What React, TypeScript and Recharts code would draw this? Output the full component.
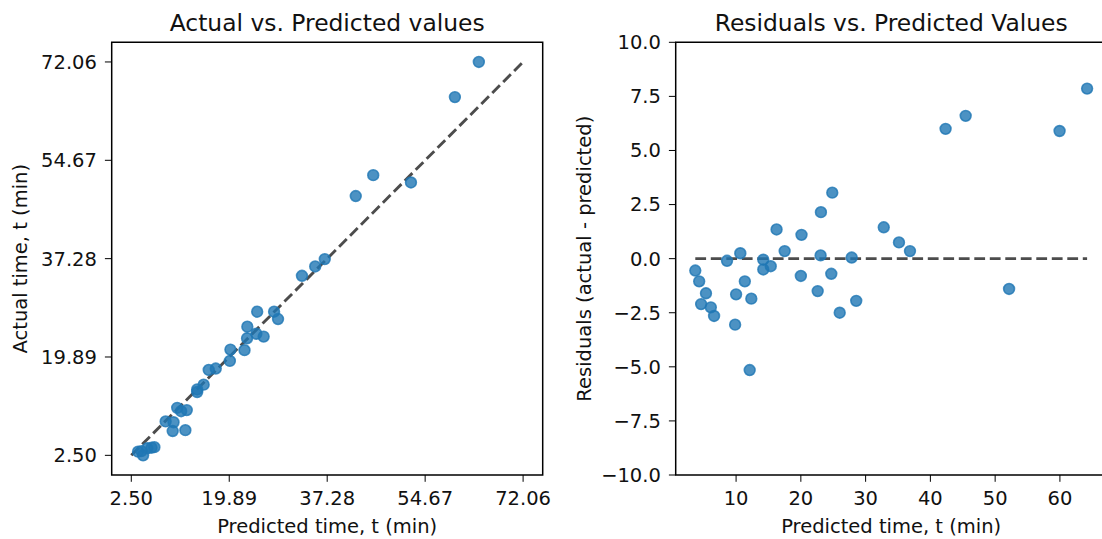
import React from 'react';
import {
  ScatterChart,
  Scatter,
  XAxis,
  YAxis,
  ReferenceLine,
  ReferenceArea,
} from 'recharts';

// predicted times (min) and residuals
const predicted = [
  3.7, 4.3, 5.35, 4.6, 6.1, 6.6, 8.6, 10.0, 9.85, 10.65, 11.35, 12.35,
  12.1, 14.2, 14.2, 15.35, 16.25, 17.5, 20.1, 20.0, 22.6, 23.1, 23.05, 24.85,
  24.7, 26.0, 27.85, 28.55, 32.8, 35.15, 36.85, 42.35, 45.45, 52.15, 59.95, 64.2,
];
const residuals = [
  -0.55, -1.05, -1.6, -2.1, -2.25, -2.65, -0.1, -1.65, -3.05, 0.25, -1.05, -1.85,
  -5.15, -0.05, -0.5, -0.35, 1.35, 0.35, 1.1, -0.8, -1.5, 2.15, 0.15, 3.05,
  -0.7, -2.5, 0.05, -1.95, 1.45, 0.75, 0.35, 6.0, 6.6, -1.4, 5.9, 7.86,
];
const actualTicks = [2.5, 19.89, 37.28, 54.67, 72.06];
const residualTicks = [-10, -7.5, -5, -2.5, 0, 2.5, 5, 7.5, 10];
const predictedTicks = [10, 20, 30, 40, 50, 60];

const actual = predicted.map((p, i) => +(p + residuals[i]).toFixed(2));

const leftData = predicted.map((p, i) => ({ x: p, y: actual[i] }));
const rightData = predicted.map((p, i) => ({ x: p, y: residuals[i] }));

// matplotlib-like 5% margins
const pad = (lo: number, hi: number): [number, number] => {
  const m = (hi - lo) * 0.05;
  return [lo - m, hi + m];
};
const allMin = Math.min(...predicted, ...actual);
const allMax = Math.max(...predicted, ...actual);
const leftDomain = pad(allMin, allMax);
const predMin = Math.min(...predicted);
const predMax = Math.max(...predicted);
const rightXDomain = pad(predMin, predMax);

const FONT = '"DejaVu Sans", sans-serif';
const BLUE = '#1f77b4';
const tickStyle = { fontSize: 19.5, fill: '#111', fontFamily: FONT };

const Dot = (props: any) => {
  const { cx, cy } = props;
  if (cx == null || cy == null) return null;
  return (
    <circle
      cx={cx}
      cy={cy}
      r={5.4}
      fill={BLUE}
      fillOpacity={0.8}
      stroke={BLUE}
      strokeOpacity={0.8}
      strokeWidth={1.6}
    />
  );
};

const fmtMinus = (v: number, d: number) => v.toFixed(d).replace('-', '\u2212');

export default function App() {
  return (
    <div
      style={{
        position: 'absolute',
        left: 0,
        top: 0,
        width: 1102,
        height: 539,
        overflow: 'hidden',
        background: '#fff',
      }}
    >
      {/* Actual vs predicted */}
      <div style={{ position: 'absolute', left: 0, top: 0 }}>
        <ScatterChart
          width={560}
          height={539}
          margin={{ top: 42.3, right: 17.3, bottom: 0, left: 0 }}
        >
          <XAxis
            type="number"
            dataKey="x"
            domain={leftDomain}
            allowDataOverflow
            ticks={actualTicks}
            interval={0}
            tickFormatter={(v: number) => v.toFixed(2)}
            height={64}
            axisLine={false}
            tickSize={6.8}
            tickMargin={9.3}
            stroke="#000"
            tick={tickStyle}
          />
          <YAxis
            type="number"
            dataKey="y"
            domain={leftDomain}
            allowDataOverflow
            ticks={actualTicks}
            interval={0}
            tickFormatter={(v: number) => v.toFixed(2)}
            width={111.7}
            axisLine={false}
            tickSize={6.8}
            tickMargin={8}
            stroke="#000"
            tick={tickStyle}
          />
          <Scatter data={leftData} shape={<Dot />} isAnimationActive={false} />
          <ReferenceLine
            segment={[
              { x: allMin, y: allMin },
              { x: allMax, y: allMax },
            ]}
            stroke="#000"
            strokeOpacity={0.7}
            strokeWidth={2.9}
            strokeDasharray="10.8 4.7"
            ifOverflow="visible"
          />
          <ReferenceArea
            x1={leftDomain[0]}
            x2={leftDomain[1]}
            y1={leftDomain[0]}
            y2={leftDomain[1]}
            fill="none"
            stroke="#000"
            strokeWidth={1.5}
            ifOverflow="visible"
          />
        </ScatterChart>
      </div>

      {/* Residuals vs predicted */}
      <div style={{ position: 'absolute', left: 560, top: 0 }}>
        <ScatterChart
          width={560}
          height={539}
          margin={{ top: 42.3, right: 13.3, bottom: 0, left: 0 }}
        >
          <XAxis
            type="number"
            dataKey="x"
            domain={rightXDomain}
            allowDataOverflow
            ticks={predictedTicks}
            interval={0}
            height={64}
            axisLine={false}
            tickSize={6.8}
            tickMargin={9.3}
            stroke="#000"
            tick={tickStyle}
          />
          <YAxis
            type="number"
            dataKey="y"
            domain={[-10, 10]}
            allowDataOverflow
            ticks={residualTicks}
            interval={0}
            tickFormatter={(v: number) => fmtMinus(v, 1)}
            width={115.7}
            axisLine={false}
            tickSize={6.8}
            tickMargin={8}
            stroke="#000"
            tick={tickStyle}
          />
          <Scatter data={rightData} shape={<Dot />} isAnimationActive={false} />
          <ReferenceLine
            segment={[
              { x: predMin, y: 0 },
              { x: predMax, y: 0 },
            ]}
            stroke="#000"
            strokeOpacity={0.7}
            strokeWidth={2.9}
            strokeDasharray="10.8 4.7"
            ifOverflow="visible"
          />
          <ReferenceArea
            x1={rightXDomain[0]}
            x2={rightXDomain[1]}
            y1={-10}
            y2={10}
            fill="none"
            stroke="#000"
            strokeWidth={1.5}
            ifOverflow="visible"
          />
        </ScatterChart>
      </div>

      {/* titles and axis labels */}
      <svg
        width={1102}
        height={539}
        style={{ position: 'absolute', left: 0, top: 0, pointerEvents: 'none' }}
        fontFamily={FONT}
        fill="#111"
      >
        <text x={327.2} y={31} textAnchor="middle" fontSize={23.4}>
          Actual vs. Predicted values
        </text>
        <text x={891.2} y={31} textAnchor="middle" fontSize={23.4}>
          Residuals vs. Predicted Values
        </text>
        <text x={327.2} y={533} textAnchor="middle" fontSize={19.5}>
          Predicted time, t (min)
        </text>
        <text x={891.2} y={533} textAnchor="middle" fontSize={19.5}>
          Predicted time, t (min)
        </text>
        <text
          transform="translate(26.7 258.7) rotate(-90)"
          textAnchor="middle"
          fontSize={19.5}
        >
          Actual time, t (min)
        </text>
        <text
          transform="translate(591 258.7) rotate(-90)"
          textAnchor="middle"
          fontSize={19.5}
        >
          Residuals (actual - predicted)
        </text>
      </svg>
    </div>
  );
}
